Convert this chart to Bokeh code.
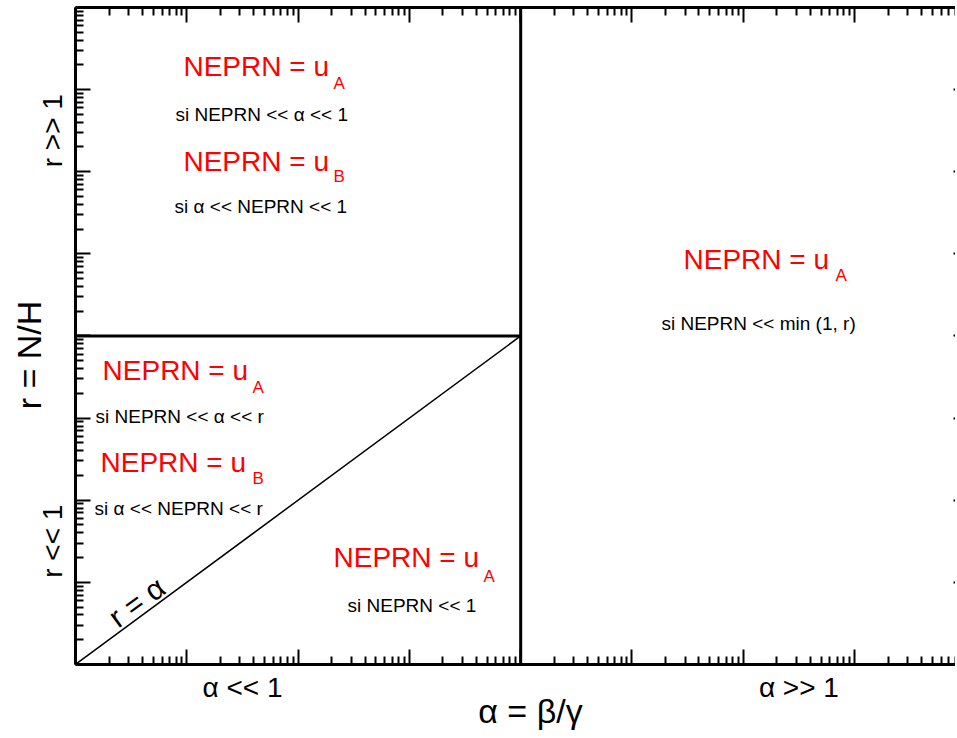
import math
from bokeh.plotting import figure
from bokeh.models import Range1d, FixedTicker, LogAxis, Label
from bokeh.embed import file_html
from bokeh.resources import INLINE

# ---- axes data (log decades) ----
decades = list(range(-4, 5))
minor_mult = [2, 3, 4, 5, 6, 7, 8, 9]
major_ticks = [10.0 ** d for d in decades]
minor_ticks = [m * 10.0 ** d for d in decades[:-1] for m in minor_mult]
axis_bounds = (1e-4, 1e4)

# visible window in log10 units (frame spans the whole canvas, axes are fixed inside)
x_range_exp = [-4.674, 3.907]
y_range_exp = [-4.878, 4.085]
X_DEC_PX = 111.3   # pixels per decade (x), used only for small text nudges
Y_DEC_PX = 82.0    # pixels per decade (y)

# ---- regime boundaries ----
alpha_boundary = 1.0          # vertical line alpha = 1
r_boundary = 1.0              # horizontal line r = 1 (for alpha < 1)
diag_alpha = [1e-4, 1.0]      # r = alpha
diag_r = [1e-4, 1.0]

# ---- texts: (log10 x, log10 y, text) ----
red_texts = [
    (-3.03, 3.171, "NEPRN = u"),
    (-3.03, 2.012, "NEPRN = u"),
    (1.463, 0.817, "NEPRN = u"),
    (-3.757, -0.537, "NEPRN = u"),
    (-3.775, -1.659, "NEPRN = u"),
    (-1.682, -2.817, "NEPRN = u"),
]
sub_texts = [
    (-1.682, 3.0, "A"),
    (-1.682, 1.866, "B"),
    (2.828, 0.671, "A"),
    (-2.41, -0.695, "A"),
    (-2.41, -1.805, "B"),
    (-0.334, -3.0, "A"),
]
cond_texts = [
    (-3.102, 2.622, "si NEPRN << α << 1"),
    (-3.11, 1.5, "si α << NEPRN << 1"),
    (1.265, 0.073, "si NEPRN << min (1, r)"),
    (-3.82, -1.061, "si NEPRN << α << r"),
    (-3.829, -2.183, "si α << NEPRN << r"),
    (-1.556, -3.366, "si NEPRN << 1"),
]
x_side_labels = [(-2.5, "α << 1"), (2.5, "α >> 1")]
y_side_labels = [(2.5, "r >> 1"), (-2.5, "r << 1")]
x_title = (0.088, -4.71, "α = β/γ")
y_title = (-4.314, -0.232, "r = N/H")
diag_label = (-3.395, -3.34, "r = α")

FONT = "Liberation Sans"

p = figure(width=955, height=736, x_axis_type="log", y_axis_type="log",
           x_range=Range1d(10 ** x_range_exp[0], 10 ** x_range_exp[1]),
           y_range=Range1d(10 ** y_range_exp[0], 10 ** y_range_exp[1]),
           output_backend="svg", toolbar_location=None)
p.min_border = 0
p.outline_line_color = None
p.grid.visible = False
p.background_fill_color = "white"
p.border_fill_color = "white"


def style_axis(ax, loc, major_in=15, minor=True, line=True):
    ax.fixed_location = loc
    ax.bounds = axis_bounds
    ax.ticker = FixedTicker(ticks=major_ticks, minor_ticks=minor_ticks if minor else [])
    ax.axis_line_width = 3
    ax.axis_line_color = "black" if line else None
    ax.major_tick_in = major_in
    ax.major_tick_out = 0
    ax.minor_tick_in = 8 if minor else 0
    ax.minor_tick_out = 0
    ax.major_tick_line_width = 2
    ax.minor_tick_line_width = 2
    ax.major_tick_line_color = "black"
    ax.minor_tick_line_color = "black"
    ax.major_label_text_font_size = "1px"
    ax.major_label_text_alpha = 0.0
    ax.major_label_standoff = 0


style_axis(p.xaxis[0], axis_bounds[0])
style_axis(p.yaxis[0], axis_bounds[0])
top_axis = LogAxis()
style_axis(top_axis, axis_bounds[1])
p.add_layout(top_axis, "above")
right_axis = LogAxis()
style_axis(right_axis, axis_bounds[1], major_in=12, minor=False, line=False)
p.add_layout(right_axis, "right")

# boundaries
p.line([alpha_boundary, alpha_boundary], list(axis_bounds),
       line_color="black", line_width=3)
p.line([axis_bounds[0], alpha_boundary], [r_boundary, r_boundary],
       line_color="black", line_width=3)
p.line(diag_alpha, diag_r, line_color="black", line_width=1.5)

BASELINE_FIX = 0.34   # em; compensates the renderer's baseline placement


def add_label(xe, ye, text, size, color="black", align="left", angle=0.0):
    d = BASELINE_FIX * size
    xe = xe - math.sin(angle) * d / X_DEC_PX
    ye = ye + math.cos(angle) * d / Y_DEC_PX
    p.add_layout(Label(x=10 ** xe, y=10 ** ye, text=text, text_font=FONT,
                       text_font_size=f"{size}px", text_color=color, text_align=align,
                       text_baseline="alphabetic", angle=angle))


for xe, ye, t in red_texts:
    add_label(xe, ye, t, 28, "#ff0000")
for xe, ye, t in sub_texts:
    add_label(xe, ye, t, 17, "#ff0000")
for xe, ye, t in cond_texts:
    add_label(xe, ye, t, 19)

for xe, t in x_side_labels:
    add_label(xe, -4.402, t, 28, align="center")
for ye, t in y_side_labels:
    add_label(-4.117, ye, t, 28, align="center", angle=math.pi / 2)

add_label(x_title[0], x_title[1], x_title[2], 34, align="center")
add_label(y_title[0], y_title[1], y_title[2], 34, align="center", angle=math.pi / 2)
add_label(diag_label[0], diag_label[1], diag_label[2], 30, align="center",
          angle=math.atan2(82.0, 111.3))

open("out.html", "w").write(file_html(p, INLINE))
